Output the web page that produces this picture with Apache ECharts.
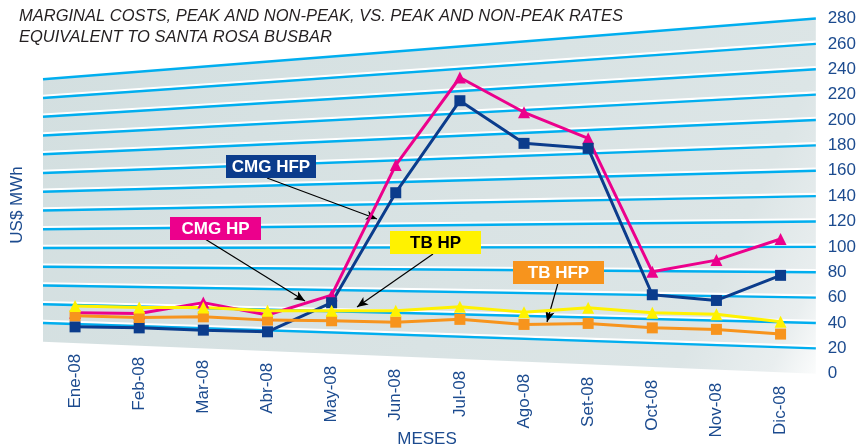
<!DOCTYPE html>
<html>
<head>
<meta charset="utf-8">
<script src="https://cdn.jsdelivr.net/npm/echarts@6/dist/echarts.min.js"></script>
<style>
  html, body { margin: 0; padding: 0; background: #fff; }
  #main { width: 859px; height: 447px; }
</style>
</head>
<body>
<div id="main"></div>
<script>
// valores (US$/MWh)
var months = ['Ene-08', 'Feb-08', 'Mar-08', 'Abr-08', 'May-08', 'Jun-08',
              'Jul-08', 'Ago-08', 'Set-08', 'Oct-08', 'Nov-08', 'Dic-08'];
var cmgHfp = [37.0, 36.2, 34.4, 33.1, 56.0, 142.7, 215.2, 181.6, 177.7, 62.3, 57.8, 77.6];
var cmgHp  = [48.1, 47.6, 56.1, 46.3, 62.0, 164.5, 233.5, 206.1, 185.6, 80.4, 89.6, 106.2];
var tbHp   = [53.4, 52.3, 52.3, 49.6, 49.6, 49.6, 52.8, 48.6, 52.0, 48.1, 47.0, 41.0];
var tbHfp  = [45.7, 44.4, 44.9, 42.3, 41.8, 40.7, 42.9, 38.9, 39.7, 36.2, 35.0, 31.3];
var gridValues = [20, 40, 60, 80, 100, 120, 140, 160, 180, 200, 220, 240, 260, 280];

var FONT = '"Liberation Sans", Arial, sans-serif';
var AXIS_BLUE = '#1c4b8f';
var C_HFP = '#0b3c8c', C_HP = '#ec008c', C_TBHP = '#fff200', C_TBHFP = '#f7941d';

// falsa perspectiva: en el borde izquierdo la linea de valor v cae
// donde la escala derecha marca 25.3 + 0.7386 * v
function leftVal(v) { return 25.3 + 0.7386 * v; }

var myChart = echarts.init(document.getElementById('main'));

// recuadro de leyenda (rect + texto)
function box(x, y, w, text, bg, fg) {
  return [
    { type: 'rect', z: 100, shape: { x: x, y: y, width: w, height: 23 }, style: { fill: bg } },
    { type: 'text', z: 101, x: x + w / 2, y: y + 12,
      style: { text: text, fill: fg, font: 'bold 17px ' + FONT, align: 'center', verticalAlign: 'middle' } }
  ];
}

var lineSeries = function (name, data, color, symbol, size) {
  return {
    name: name,
    type: 'line',
    data: data,
    symbol: symbol,
    symbolSize: size,
    showSymbol: true,
    lineStyle: { color: color, width: 3 },
    itemStyle: { color: color },
    z: 10
  };
};

var option = {
  animation: false,
  backgroundColor: '#fff',
  title: {
    text: 'MARGINAL COSTS, PEAK AND NON-PEAK, VS. PEAK AND NON-PEAK RATES\nEQUIVALENT TO SANTA ROSA BUSBAR',
    left: 14,
    top: 1,
    textStyle: {
      fontFamily: FONT, fontStyle: 'italic', fontWeight: 'normal',
      fontSize: 16.5, lineHeight: 21, color: '#231f20'
    }
  },
  grid: { left: 43, right: 46, top: 18.5, bottom: 73.2 },
  xAxis: [
    {
      type: 'category',
      data: months.map(function (m, i) {
        return { value: m, textStyle: { padding: [0, Math.round(i * 2.9), 0, 0] } };
      }),
      boundaryGap: true,
      axisLine: { show: false },
      axisTick: { show: false },
      axisLabel: {
        rotate: 90, margin: -20, interval: 0,
        color: AXIS_BLUE, fontSize: 17, fontFamily: FONT
      }
    },
    { type: 'value', min: -0.5, max: 11.5, show: false }
  ],
  yAxis: {
    type: 'value',
    position: 'right',
    min: 0, max: 280, interval: 20,
    splitLine: { show: false },
    axisLine: { show: false },
    axisTick: { show: false },
    axisLabel: { margin: 15, color: AXIS_BLUE, fontSize: 17, fontFamily: FONT }
  },
  graphic: [
    { type: 'text', x: 17, y: 205, rotation: Math.PI / 2,
      style: { text: 'US$ MWh', fill: AXIS_BLUE, font: '17px ' + FONT, align: 'center', verticalAlign: 'middle' } },
    { type: 'text', x: 427, y: 439,
      style: { text: 'MESES', fill: AXIS_BLUE, font: '17px ' + FONT, align: 'center', verticalAlign: 'middle' } }
  ].concat(
    box(226, 155, 90, 'CMG HFP', C_HFP, '#fff'),
    box(170, 217, 91, 'CMG HP', C_HP, '#fff'),
    box(390, 231, 91, 'TB HP', C_TBHP, '#000'),
    box(513, 261, 91, 'TB HFP', C_TBHFP, '#fff')
  ),
  series: [
    {
      // fondo gris del plano inclinado
      type: 'custom',
      xAxisIndex: 1,
      silent: true,
      z: 1,
      data: [[0, 280]],
      renderItem: function (params, api) {
        var top = api.value(1);
        var tl = api.coord([-0.5, leftVal(top)]), tr = api.coord([11.55, top]);
        var bl = api.coord([-0.5, leftVal(0)]), br = api.coord([11.55, 0]);
        return {
          type: 'polygon',
          shape: { points: [tl, tr, br, bl] },
          style: {
            fill: new echarts.graphic.LinearGradient(0, 0, 1, 1, [
              { offset: 0, color: '#d3dfe0' },
              { offset: 0.85, color: '#dce5e6' },
              { offset: 0.95, color: '#e9eeef' },
              { offset: 1, color: '#fbfcfc' }
            ])
          }
        };
      }
    },
    {
      // lineas de la grilla: brillo blanco y linea celeste
      type: 'custom',
      xAxisIndex: 1,
      silent: true,
      z: 2,
      data: gridValues.map(function (v) { return [0, v]; }),
      renderItem: function (params, api) {
        var v = api.value(1);
        var a = api.coord([-0.5, leftVal(v)]), b = api.coord([11.55, v]);
        return {
          type: 'group',
          children: [
            { type: 'line', shape: { x1: a[0], y1: a[1] - 2.2, x2: b[0], y2: b[1] - 2.2 },
              style: { stroke: '#ffffff', lineWidth: 2.2 } },
            { type: 'line', shape: { x1: a[0], y1: a[1], x2: b[0], y2: b[1] },
              style: { stroke: '#00aeef', lineWidth: 2.4 } }
          ]
        };
      }
    },
    lineSeries('CMG HP', cmgHp, C_HP, 'triangle', 12),
    Object.assign(lineSeries('CMG HFP', cmgHfp, C_HFP, 'rect', 11), {
      markLine: {
        silent: true,
        symbol: ['none', 'arrow'],
        symbolSize: [7, 11],
        label: { show: false },
        lineStyle: { color: '#000', width: 1.2, type: 'solid' },
        emphasis: { disabled: true },
        data: [
          [{ x: 267, y: 178 }, { x: 377, y: 219 }],
          [{ x: 205, y: 239 }, { x: 305, y: 301 }],
          [{ x: 433, y: 254 }, { x: 357, y: 307 }],
          [{ x: 558, y: 283 }, { x: 547, y: 322 }]
        ]
      }
    }),
    lineSeries('TB HFP', tbHfp, C_TBHFP, 'rect', 11),
    lineSeries('TB HP', tbHp, C_TBHP, 'triangle', 12)
  ]
};

myChart.setOption(option);
</script>
</body>
</html>
